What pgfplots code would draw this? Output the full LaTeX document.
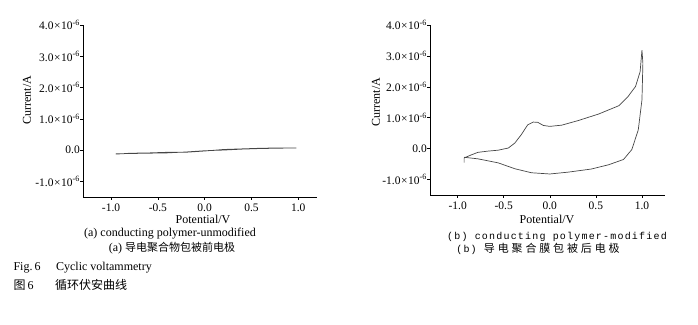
\documentclass[border=0pt]{standalone}
\usepackage{pgfplots}
\pgfplotsset{compat=1.18}
\usepackage{fontspec}
\setmainfont{Liberation Serif}
\newfontfamily\monofont[LetterSpace=12]{Liberation Mono}
\newfontfamily\cjk{Noto Sans CJK SC}
\newfontfamily\cjkwide[LetterSpace=26]{Noto Sans CJK SC}
\definecolor{curve}{RGB}{70,70,70}
\newcommand{\tm}{\kern0.6pt×\kern0.4pt}
\pgfplotsset{
  cvaxis/.style={
    scale only axis,
    axis x line*=bottom, axis y line*=left,
    axis line style={black, line width=0.7pt, -},
    xmin=-1.3, ymin=-1.5, ymax=4.0,
    xtick={-1,-0.5,0,0.5,1},
    xticklabels={-1.0,-0.5,0.0,0.5,1.0},
    ytick={-1,0,1,2,3,4},
    yticklabels={-1.0\tm10\textsuperscript{-6},0.0,1.0\tm10\textsuperscript{-6},2.0\tm10\textsuperscript{-6},3.0\tm10\textsuperscript{-6},4.0\tm10\textsuperscript{-6}},
    tick align=outside, major tick length=3pt,
    tick style={black, line width=0.6pt},
    ticklabel style={font=\fontsize{11.5}{12}\selectfont},
    yticklabel style={xshift=1.5pt, inner xsep=1.5pt},
    clip=false,
  }
}
\begin{document}
\begin{tikzpicture}[x=1pt,y=1pt]
\path[use as bounding box] (0,0) rectangle (698,324);
% left panel
\begin{axis}[cvaxis, at={(83pt,127pt)}, anchor=south west, width=234pt, height=172pt, xmax=1.2]
\addplot[curve, line width=0.7pt] coordinates {
(-0.95,-0.13) (-0.8,-0.10) (-0.6,-0.09) (-0.4,-0.07) (-0.2,-0.07) (0.0,-0.03)
(0.2,0.02) (0.4,0.04) (0.6,0.06) (0.8,0.07) (0.98,0.07)
(0.8,0.06) (0.6,0.05) (0.4,0.03) (0.2,0.00) (0.0,-0.02) (-0.2,-0.06) (-0.4,-0.09) (-0.6,-0.10) (-0.8,-0.11) (-0.95,-0.12)
};
\end{axis}
% right panel
\begin{axis}[cvaxis, at={(430pt,129pt)}, anchor=south west, width=235pt, height=170pt, xmax=1.25]
\addplot[curve, line width=0.7pt] coordinates {
(-0.93,-0.45) (-0.93,-0.30) (-0.85,-0.20) (-0.78,-0.12) (-0.67,-0.08) (-0.56,-0.05)
(-0.45,0.02) (-0.38,0.18) (-0.31,0.45) (-0.24,0.77) (-0.18,0.86) (-0.13,0.85)
(-0.07,0.75) (0.0,0.72) (0.13,0.76) (0.31,0.91) (0.53,1.12) (0.75,1.39)
(0.85,1.69) (0.93,2.01) (0.98,2.49) (1.0,3.19)
(1.01,2.76) (1.0,1.58) (0.96,0.61) (0.89,-0.03) (0.8,-0.35) (0.64,-0.52)
(0.45,-0.66) (0.2,-0.76) (0.0,-0.82) (-0.2,-0.78) (-0.38,-0.65) (-0.56,-0.46)
(-0.78,-0.33) (-0.93,-0.28)
};
\end{axis}
% axis labels
\node[rotate=90, font=\fontsize{12}{13}\selectfont] at (27,224) {Current/A};
\node[rotate=90, font=\fontsize{12}{13}\selectfont] at (376,222) {Current/A};
\node[font=\fontsize{12}{13}\selectfont] at (203,105) {Potential/V};
\node[font=\fontsize{12}{13}\selectfont] at (547,105) {Potential/V};
% captions
\node[font=\fontsize{12}{13}\selectfont] at (170,90) {(a) conducting polymer-unmodified};
\node[font=\fontsize{12}{13}\selectfont] at (172,76) {(a) {\cjk\fontsize{11}{12}\selectfont 导电聚合物包被前电极}};
\node[font=\monofont\fontsize{10}{11}\selectfont] at (557,87) {(b) conducting polymer-modified};
\node[font=\fontsize{10}{11}\selectfont] at (538,75) {\monofont(b) {\cjkwide\fontsize{11}{12}\selectfont 导电聚合膜包被后电极}};
\node[anchor=west, font=\fontsize{12}{13}\selectfont] at (10,56) {Fig.\,6\hspace{1.3em}Cyclic voltammetry};
\node[anchor=west, font=\fontsize{12}{13}\selectfont] at (10,39) {{\cjk 图}\,6\hspace{1.8em}{\cjk\fontsize{12}{13}\selectfont 循环伏安曲线}};
\end{tikzpicture}
\end{document}
